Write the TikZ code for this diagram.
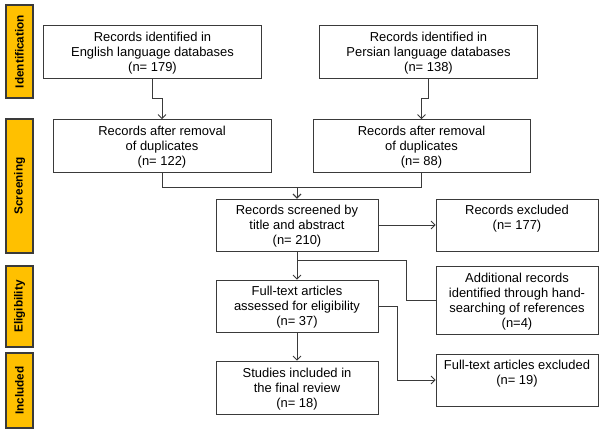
\documentclass[tikz,border=0pt]{standalone}
\usepackage{fontspec}
\setmainfont{Liberation Sans}
\usetikzlibrary{arrows.meta}
\definecolor{stagefill}{HTML}{FFC000}
\definecolor{linegray}{HTML}{3A3A3A}
\begin{document}
\begin{tikzpicture}[x=1bp, y=-1bp,
	box/.style    = {draw=linegray, line width=0.9pt, rectangle, align=center, inner sep=2pt, text depth=0pt, font=\fontsize{13}{15}\selectfont},
	wide/.style   = {box, minimum width=218bp, minimum height=53bp},
	narrow/.style = {box, minimum width=162bp, minimum height=52bp},
	stage/.style  = {draw=linegray, line width=1.1pt, fill=stagefill, rotate=90, minimum height=27bp, inner sep=0pt, font=\fontsize{11.8}{13}\selectfont\bfseries},
	link/.style   = {draw=linegray, line width=0.8pt},
	>={Straight Barb[length=4pt, width=8pt]}]
	\useasboundingbox (0,0) rectangle (600,430);
	
	% stage labels on the left
	\foreach \n/\y/\h/\t in {1/51.5/93/Identification, 2/186/134/Screening, 3/306.5/81/Eligibility, 4/390.5/75/Included}
	\node[stage, minimum width=\h bp] (l\n) at (19.5,\y) {\t};
	
	% identification, two sources
	\node[wide] (i1) at (152.5,51.5) {Records identified in\\English language databases\\(n= 179)};
	\node[wide] (i2) at (428.5,51.5) {Records identified in\\Persian language databases\\(n= 138)};
	\node[wide] (d1) at (162,146) {Records after removal\\of duplicates\\(n= 122)};
	\node[wide, minimum width=217bp] (d2) at (421.5,146) {Records after removal\\of duplicates\\(n= 88)};
	
	% screening and eligibility
	\node[narrow] (s1) at (297,225) {Records screened by\\title and abstract\\(n= 210)};
	\node[narrow] (s2) at (517,225) {Records excluded\\(n= 177)\\\strut};
	\node[narrow] (e1) at (297,306) {Full-text articles\\assessed for eligibility\\(n= 37)};
	\node[narrow, minimum height=68bp] (e2) at (517,300) {Additional records\\identified through hand-\\searching of references\\(n=4)};
	
	% included
	\node[narrow, minimum height=53bp] (n1) at (297,387.5) {Studies included in\\the final review\\(n= 18)};
	\node[narrow] (n2) at (517,380) {Full-text articles excluded\\(n= 19)\\\strut};
	
	% connectors
	\foreach \value in {1,2}
	\draw[link, ->] (i\value.south) -- ++(0,20) -| (d\value.north);
	
	\foreach \value in {1,2}
	\draw[link, ->] (d\value.south) -- ++(0,14) -| (s1.north);
	
	\draw[link, ->] (s1.east) -- (s2.west);
	\draw[link, ->] (s1.south) -- (e1.north);
	\draw[link] (e2.west) -- ++(-29,0) |- ([yshift=-9bp]s1.south);
	\draw[link, ->] (e1.east) -- ++(19,0) |- (n2.west);
	\draw[link, ->] (e1.south) -- (n1.north);
\end{tikzpicture}
\end{document}
